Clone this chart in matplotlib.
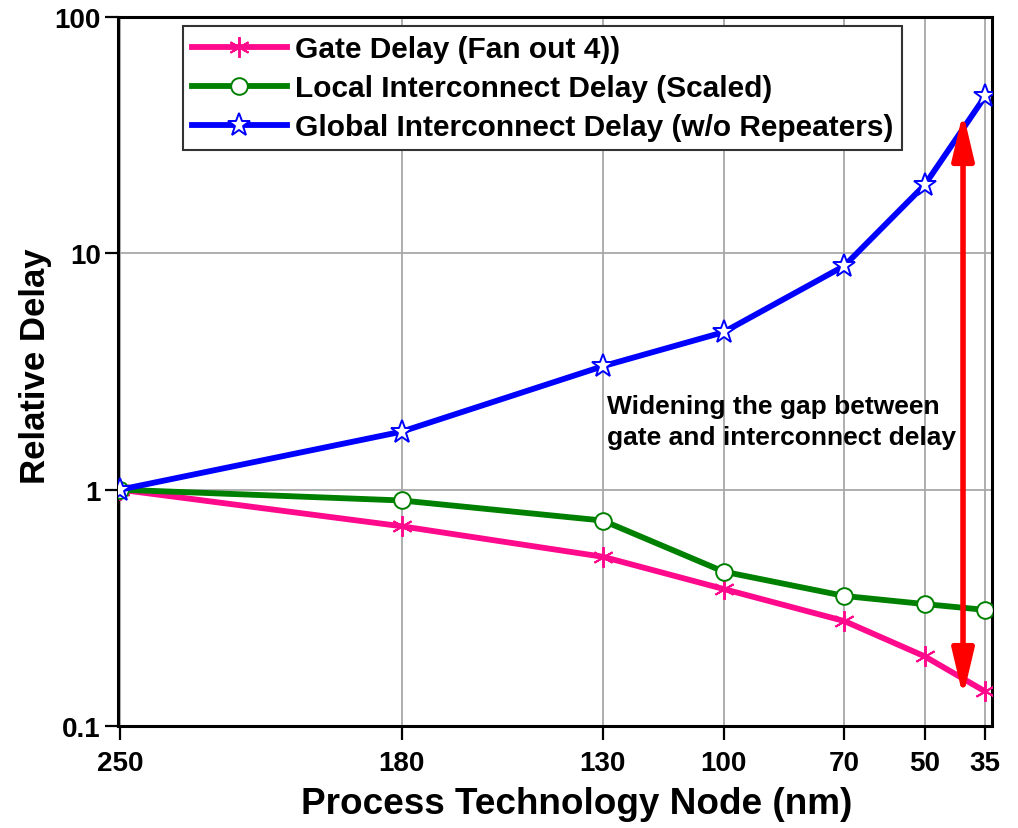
import numpy as np
import matplotlib
matplotlib.use('Agg')
import matplotlib.pyplot as plt

# process nodes (nm) and relative delays
nodes = [250, 180, 130, 100, 70, 50, 35]
gate_delay = [1.0, 0.70, 0.52, 0.38, 0.278, 0.197, 0.14]
local_delay = [1.0, 0.90, 0.74, 0.45, 0.355, 0.328, 0.31]
global_delay = [1.0, 1.76, 3.33, 4.64, 8.85, 19.5, 46.2]

labels = ['Gate Delay (Fan out 4))',
          'Local Interconnect Delay (Scaled)',
          'Global Interconnect Delay (w/o Repeaters)']

arrow_node = 40.5
arrow_top = 39.5
arrow_bottom = 0.133
note = 'Widening the gap between\ngate and interconnect delay'

plt.rcParams['font.family'] = ['Liberation Sans', 'DejaVu Sans']
plt.rcParams['font.weight'] = 'bold'

fig = plt.figure(figsize=(10.18, 8.29), dpi=100)
ax = fig.add_axes([118/1018, 1-727/829, 874/1018, 709/829])

ax.plot(nodes, gate_delay, color='#ff0a8c', lw=4.2, marker=(6, 2, 0),
        ms=15, mew=1.4, mec='#ff0a8c', label=labels[0], zorder=3)
ax.plot(nodes, local_delay, color='#008000', lw=4.2, marker='o',
        ms=12, mfc='white', mec='#008000', mew=1.4, label=labels[1], zorder=4)
ax.plot(nodes, global_delay, color='#0000ff', lw=4.2, marker='*',
        ms=17, mfc='white', mec='#0000ff', mew=1.4, label=labels[2], zorder=5)

ax.set_yscale('log')
ax.set_ylim(0.1, 100)
ax.set_xlim(250.5, 33.3)
ax.set_xticks(nodes)
ax.set_xticklabels([str(n) for n in nodes])
ax.set_yticks([0.1, 1, 10, 100])
ax.set_yticklabels(['0.1', '1', '10', '100'])
ax.minorticks_off()

ax.grid(True, color='#a8a8a8', lw=1.3)
ax.set_axisbelow(True)
for s in ax.spines.values():
    s.set_linewidth(2.2)

ax.tick_params(axis='both', labelsize=20)
ax.tick_params(axis='y', direction='out', length=9.5, width=1.6, pad=3)
ax.tick_params(axis='x', direction='out', length=10, width=1.6, pad=7)

ax.set_xlabel('Process Technology Node (nm)', fontsize=26.6, fontweight='bold')
ax.xaxis.set_label_coords((577-118)/874, -0.085)
ax.set_ylabel('Relative Delay', fontsize=25, fontweight='bold')
ax.yaxis.set_label_coords(-0.075, (727-366)/709)

ax.annotate('', xy=(arrow_node, arrow_bottom), xytext=(arrow_node, arrow_top),
            arrowprops=dict(arrowstyle='<|-|>,head_length=1.4,head_width=0.33',
                            mutation_scale=20, lw=4.0, color='#ff0000',
                            shrinkA=0, shrinkB=0), zorder=6)
ax.text(129, 2.55, note, fontsize=19, fontweight='bold', va='top', ha='left',
        linespacing=1.4, zorder=7)

leg = ax.legend(loc='upper left', bbox_to_anchor=(0.074, 0.987),
                borderaxespad=0, fontsize=21.5, handlelength=3.2,
                handletextpad=0.25, labelspacing=0.37, borderpad=0.3,
                fancybox=False, framealpha=1)
leg.get_frame().set_edgecolor('#333333')
leg.get_frame().set_linewidth(1.5)

fig.savefig('out.png', dpi=100)
